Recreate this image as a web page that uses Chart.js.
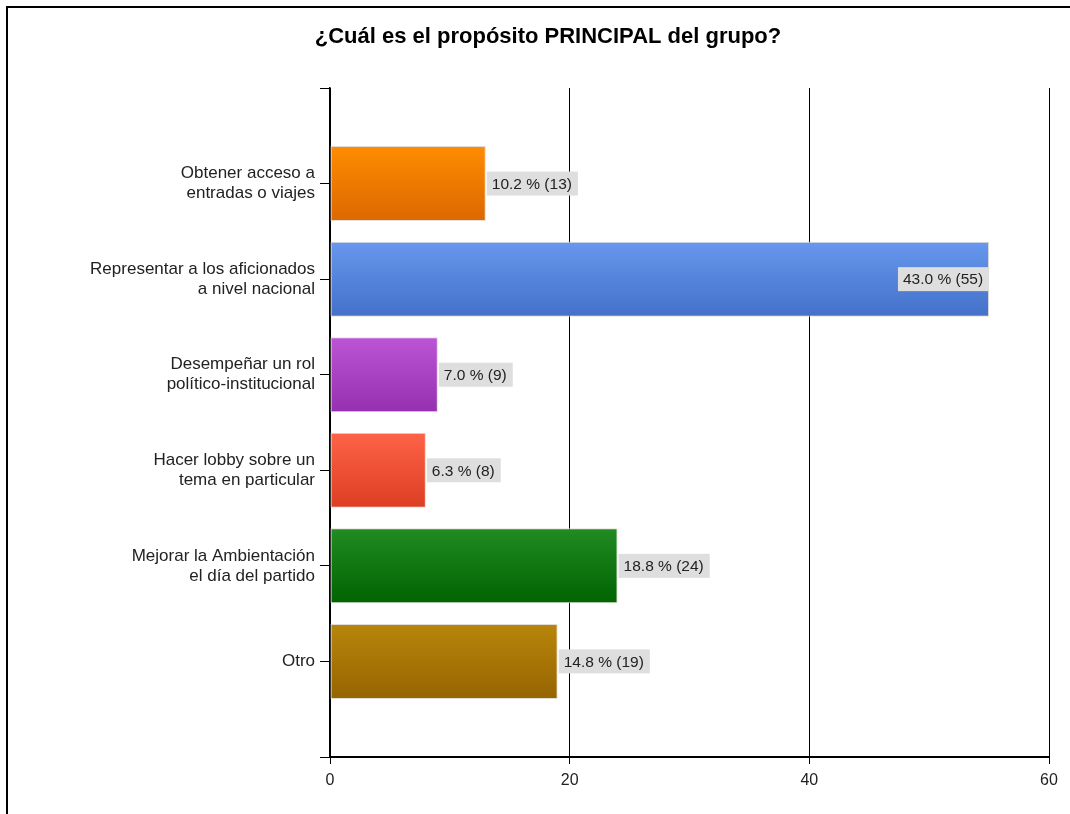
<!DOCTYPE html>
<html>
<head>
<meta charset="utf-8">
<script src="https://cdn.jsdelivr.net/npm/chart.js@4/dist/chart.umd.min.js"></script>
<style>
	body { margin: 0; background: #fff; }
	#wrap { position: relative; width: 1070px; height: 814px; }
	#frame {
		position: absolute; left: 6px; top: 6px; right: -10px; bottom: -10px;
		border-left: 2px solid #000; border-top: 2px solid #000;
		pointer-events: none;
	}
</style>
</head>
<body>
<div id="wrap">
	<canvas id="chart" width="1070" height="814"></canvas>
	<div id="frame"></div>
</div>
<script>
// datos
const categories = [
	['Obtener acceso a', 'entradas o viajes'],
	['Representar a los aficionados', 'a nivel nacional'],
	['Desempeñar un rol', 'político-institucional'],
	['Hacer lobby sobre un', 'tema en particular'],
	['Mejorar la Ambientación', 'el día del partido'],
	'Otro'
];
const counts = [13, 55, 9, 8, 24, 19];
const percents = [10.2, 43.0, 7.0, 6.3, 18.8, 14.8];
const xTicks = [0, 20, 40, 60];

// colores de las barras (arriba, abajo)
const barColors = [
	['#ff8c00', '#dc6800'],
	['#6797ee', '#4470c8'],
	['#bb55d6', '#9530b0'],
	['#ff6347', '#db3e22'],
	['#228b22', '#006400'],
	['#b8860b', '#966400']
];

const barPct = 0.785;
const fontFam = '"Liberation Sans", Arial, sans-serif';

// etiquetas vacias arriba y abajo para dejar un hueco de una categoria
const labels = [''].concat(categories, ['']);
const values = [null].concat(counts, [null]);

function barGradient(context) {
	const chart = context.chart;
	const i = context.dataIndex - 1;
	if (!chart.chartArea || i < 0 || i >= counts.length) return '#888';
	const y = chart.scales.y;
	const yc = y.getPixelForValue(context.dataIndex);
	const slot = Math.abs(y.getPixelForValue(1) - y.getPixelForValue(0));
	const h = slot * barPct / 2;
	const g = chart.ctx.createLinearGradient(0, yc - h, 0, yc + h);
	g.addColorStop(0, barColors[i][0]);
	g.addColorStop(1, barColors[i][1]);
	return g;
}

const valueLabels = {
	id: 'valueLabels',
	afterDatasetsDraw(chart) {
		const ctx = chart.ctx;
		const meta = chart.getDatasetMeta(0);
		ctx.save();
		ctx.font = '15.5px ' + fontFam;
		ctx.textBaseline = 'middle';
		meta.data.forEach((bar, idx) => {
			const i = idx - 1;
			if (i < 0 || i >= counts.length) return;
			const text = percents[i].toFixed(1) + ' % (' + counts[i] + ')';
			const w = ctx.measureText(text).width + 11;
			const h = 24;
			let left = bar.x + 1;
			if (left + w > chart.chartArea.right) left = bar.x - w;
			ctx.fillStyle = '#dedede';
			ctx.fillRect(left, bar.y - h / 2, w, h);
			ctx.fillStyle = '#222';
			ctx.textAlign = 'left';
			ctx.fillText(text, left + 5, bar.y + 1);
		});
		ctx.restore();
	}
};

const canvas = document.getElementById('chart');
new Chart(canvas, {
	type: 'bar',
	data: {
		labels: labels,
		datasets: [{
			data: values,
			backgroundColor: barGradient,
			borderColor: '#e2ddd5',
			borderWidth: 1,
			borderSkipped: false,
			barPercentage: barPct,
			categoryPercentage: 1
		}]
	},
	options: {
		indexAxis: 'y',
		responsive: false,
		animation: false,
		layout: { padding: { left: 47, right: 21, top: 0, bottom: 0 } },
		plugins: {
			legend: { display: false },
			tooltip: { enabled: false },
			title: {
				display: true,
				text: '¿Cuál es el propósito PRINCIPAL del grupo?',
				color: '#000',
				font: { family: fontFam, size: 22, weight: 'bold', lineHeight: 1.2 },
				padding: { top: 24, bottom: 37.6 }
			}
		},
		scales: {
			x: {
				min: 0,
				max: 60,
				afterBuildTicks(scale) {
					scale.ticks = xTicks.map(v => ({ value: v }));
				},
				afterFit(scale) { scale.height = 57; },
				grid: {
					color: '#000',
					lineWidth: 1,
					tickLength: 7,
					drawTicks: true
				},
				border: { color: '#000', width: 2 },
				ticks: {
					color: '#222',
					padding: 7,
					font: { family: fontFam, size: 16 }
				}
			},
			y: {
				offset: false,
				afterFit(scale) { scale.width = 283; },
				grid: {
					offset: false,
					drawOnChartArea: false,
					color: '#000',
					tickLength: 10
				},
				border: { color: '#000', width: 1.5 },
				ticks: {
					color: '#222',
					padding: 5,
					font: { family: fontFam, size: 17, lineHeight: 1.18 }
				}
			}
		}
	},
	plugins: [valueLabels]
});
</script>
</body>
</html>
